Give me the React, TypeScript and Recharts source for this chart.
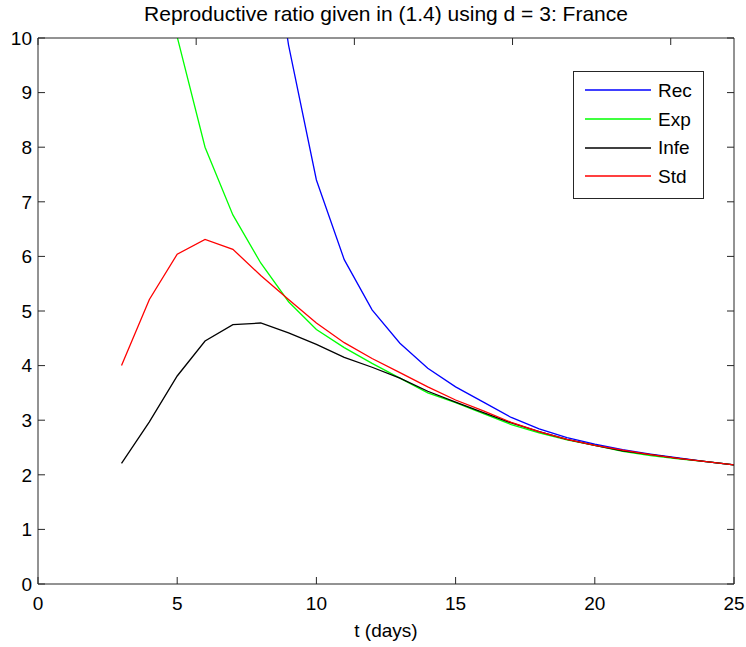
import { LineChart, Line, XAxis, YAxis, Legend } from 'recharts'

const days = [3, 4, 5, 6, 7, 8, 9, 10, 11, 12, 13, 14, 15, 16, 17, 18, 19, 20, 21, 22, 23, 24, 25]
const recValues = [40, 30, 23, 18.5, 15.5, 13.2, 9.87, 7.4, 5.94, 5.02, 4.41, 3.95, 3.61, 3.33, 3.05, 2.84, 2.68, 2.56, 2.46, 2.38, 2.31, 2.24, 2.18]
const expValues = [16.5, 12.8, 10.02, 8.0, 6.76, 5.88, 5.17, 4.66, 4.33, 4.04, 3.77, 3.5, 3.32, 3.12, 2.92, 2.77, 2.64, 2.54, 2.43, 2.35, 2.29, 2.24, 2.18]
const infeValues = [2.21, 2.97, 3.81, 4.45, 4.75, 4.78, 4.6, 4.39, 4.15, 3.97, 3.77, 3.53, 3.33, 3.14, 2.95, 2.79, 2.65, 2.54, 2.44, 2.37, 2.3, 2.24, 2.18]
const stdValues = [4.0, 5.21, 6.04, 6.31, 6.13, 5.65, 5.21, 4.78, 4.42, 4.13, 3.87, 3.61, 3.37, 3.17, 2.96, 2.79, 2.65, 2.54, 2.45, 2.37, 2.3, 2.24, 2.18]

const seriesNames = ['Rec', 'Exp', 'Infe', 'Std']
const xTicks = [0, 5, 10, 15, 20, 25]
const yTicks = [0, 1, 2, 3, 4, 5, 6, 7, 8, 9, 10]

const FONT = '"Liberation Sans", Arial, Helvetica, sans-serif'
const AXIS = '#262626'
const FS = 19

const data = days.map((t, i) => ({
  t,
  rec: recValues[i],
  exp: expValues[i],
  infe: infeValues[i],
  std: stdValues[i],
}))

function BottomTick({ x, y, payload }: any) {
  return (
    <g>
      <line x1={x} y1={y} x2={x} y2={y - 7} stroke={AXIS} />
      <text x={x} y={y + 26} textAnchor="middle" fontSize={FS} fill="#000" fontFamily={FONT}>
        {payload.value}
      </text>
    </g>
  )
}

function TopTick({ x, y }: any) {
  return <line x1={x} y1={y} x2={x} y2={y + 7} stroke={AXIS} />
}

function LeftTick({ x, y, payload }: any) {
  return (
    <g>
      <line x1={x} y1={y} x2={x + 7} y2={y} stroke={AXIS} />
      <text x={x - 6} y={y} dy="0.36em" textAnchor="end" fontSize={FS} fill="#000" fontFamily={FONT}>
        {payload.value}
      </text>
    </g>
  )
}

function RightTick({ x, y }: any) {
  return <line x1={x} y1={y} x2={x - 7} y2={y} stroke={AXIS} />
}

function LegendBox({ payload }: any) {
  // keep the plotting order, not the alphabetical one
  const items = seriesNames
    .map((n) => (payload || []).find((p: any) => p.value === n))
    .filter(Boolean)
  return (
    <div
      style={{
        width: 131,
        height: 128,
        boxSizing: 'border-box',
        border: `1px solid ${AXIS}`,
        background: '#fff',
        paddingTop: 4,
        fontFamily: FONT,
        fontSize: FS,
      }}
    >
      {items.map((item: any) => (
        <div key={item.value} style={{ display: 'flex', alignItems: 'center', height: 28.7 }}>
          <svg width={84} height={10} style={{ display: 'block' }}>
            <line x1={11} y1={5} x2={77} y2={5} stroke={item.color} strokeWidth={1.3} />
          </svg>
          <span style={{ color: '#000', lineHeight: 1 }}>{item.value}</span>
        </div>
      ))}
    </div>
  )
}

export default function App() {
  return (
    <div style={{ position: 'absolute', left: 0, top: 0, background: '#fff' }}>
      <LineChart width={746} height={647} data={data} margin={{ top: 0, right: 0, bottom: 0, left: 0 }}>
        <XAxis
          xAxisId="bottom"
          dataKey="t"
          type="number"
          domain={[0, 25]}
          ticks={xTicks}
          height={63}
          tickSize={0}
          tickMargin={0}
          tickLine={false}
          tick={<BottomTick />}
          stroke={AXIS}
          interval={0}
          label={{ value: 't (days)', position: 'insideBottom', offset: 10, fontSize: FS, fill: '#000', fontFamily: FONT }}
        />
        <XAxis
          xAxisId="top"
          orientation="top"
          type="number"
          domain={[0, 25]}
          ticks={xTicks}
          height={38}
          tickSize={0}
          tickMargin={0}
          tickLine={false}
          tick={<TopTick />}
          stroke={AXIS}
          interval={0}
          label={{
            value: 'Reproductive ratio given in (1.4) using d = 3: France',
            position: 'insideTop',
            offset: 6,
            fontSize: 21,
            fill: '#000',
            fontFamily: FONT,
          }}
        />
        <YAxis
          yAxisId="left"
          type="number"
          domain={[0, 10]}
          ticks={yTicks}
          allowDataOverflow
          width={38}
          tickSize={0}
          tickMargin={0}
          tickLine={false}
          tick={<LeftTick />}
          stroke={AXIS}
          interval={0}
        />
        <YAxis
          yAxisId="right"
          orientation="right"
          type="number"
          domain={[0, 10]}
          ticks={yTicks}
          allowDataOverflow
          width={12}
          tickSize={0}
          tickMargin={0}
          tickLine={false}
          tick={<RightTick />}
          stroke={AXIS}
          interval={0}
        />
        <Legend
          layout="vertical"
          align="center"
          verticalAlign="middle"
          content={<LegendBox />}
          wrapperStyle={{ left: 573, top: 71, width: 131, height: 128 }}
        />
        <Line xAxisId="bottom" yAxisId="left" type="linear" dataKey="rec" name="Rec" stroke="#0000ff" strokeWidth={1.3} dot={false} isAnimationActive={false} />
        <Line xAxisId="bottom" yAxisId="left" type="linear" dataKey="exp" name="Exp" stroke="#00ff00" strokeWidth={1.3} dot={false} isAnimationActive={false} />
        <Line xAxisId="bottom" yAxisId="left" type="linear" dataKey="infe" name="Infe" stroke="#000000" strokeWidth={1.3} dot={false} isAnimationActive={false} />
        <Line xAxisId="bottom" yAxisId="left" type="linear" dataKey="std" name="Std" stroke="#ff0000" strokeWidth={1.3} dot={false} isAnimationActive={false} />
      </LineChart>
    </div>
  )
}
